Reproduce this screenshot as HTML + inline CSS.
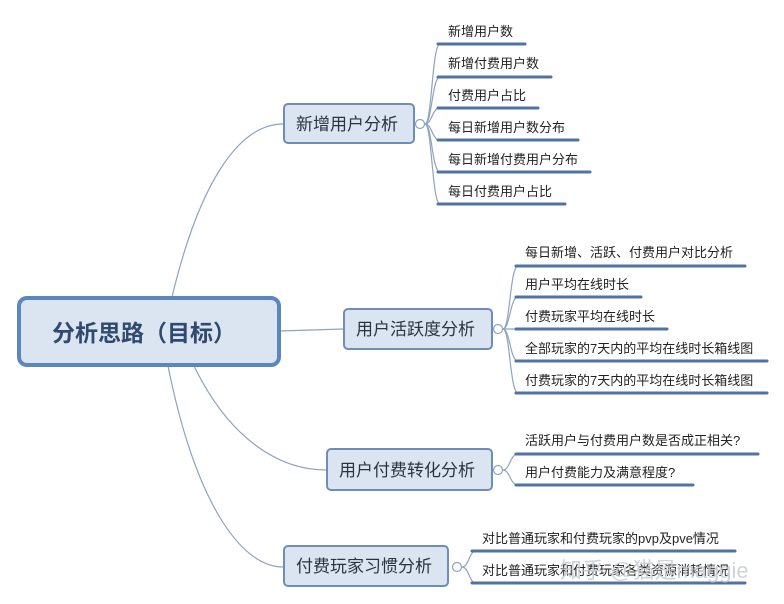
<!DOCTYPE html>
<html><head><meta charset="utf-8"><style>
html,body{margin:0;padding:0;background:#fff;}
svg{display:block;}
text{font-family:"Liberation Sans","Noto Sans CJK SC",sans-serif;fill:#222;}
.n{font-size:17px;fill:#2a3340;}
.l{font-size:13px;}
</style></head><body>
<svg width="784" height="604" viewBox="0 0 784 604" xmlns="http://www.w3.org/2000/svg">
<g fill="none" stroke="#8ea3bd" stroke-width="1.2">
<path d="M172 297 C200 180 240 124 283 124"/>
<path d="M280 331 L343 329"/>
<path d="M194 366 C230 440 280 470 326 470"/>
<path d="M168 366 C195 500 240 567 283 567"/>
<path d="M425 124 C432 124 432 44 440 44"/>
<path d="M425 124 C432 124 432 77 440 77"/>
<path d="M425 124 C432 124 432 108 440 108"/>
<path d="M425 124 C432 124 432 140 440 140"/>
<path d="M425 124 C432 124 432 172 440 172"/>
<path d="M425 124 C432 124 432 204 440 204"/>
<path d="M414 124 L416 124"/>
<path d="M503 329 C510 329 510 266 518 266"/>
<path d="M503 329 C510 329 510 297 518 297"/>
<path d="M503 329 L518 329"/>
<path d="M503 329 C510 329 510 361 518 361"/>
<path d="M503 329 C510 329 510 393 518 393"/>
<path d="M503 470 C510 470 510 454 518 454"/>
<path d="M503 470 C510 470 510 485 518 485"/>
<path d="M462 567 C469 567 469 551 476 551"/>
<path d="M462 567 C469 567 469 583 476 583"/>
</g>
<g fill="#fff" stroke="#8ea3bd" stroke-width="1.2">
<circle cx="420" cy="124" r="4.5"/>
<circle cx="498" cy="329" r="4.5"/>
<circle cx="498" cy="470" r="4.5"/>
<circle cx="457" cy="567" r="4.5"/>
</g>
<g stroke="#4f73a3" stroke-width="3" stroke-linecap="round">
<line x1="438" y1="44" x2="525" y2="44"/>
<line x1="438" y1="77" x2="551" y2="77"/>
<line x1="438" y1="108" x2="538" y2="108"/>
<line x1="438" y1="140" x2="578" y2="140"/>
<line x1="438" y1="172" x2="590" y2="172"/>
<line x1="438" y1="204" x2="565" y2="204"/>
<line x1="516" y1="266" x2="745" y2="266"/>
<line x1="516" y1="297" x2="641" y2="297"/>
<line x1="516" y1="329" x2="667" y2="329"/>
<line x1="516" y1="361" x2="767" y2="361"/>
<line x1="516" y1="393" x2="767" y2="393"/>
<line x1="516" y1="454" x2="758" y2="454"/>
<line x1="516" y1="485" x2="693" y2="485"/>
<line x1="472" y1="551" x2="735" y2="551"/>
<line x1="472" y1="583" x2="745" y2="583"/>
</g>
<rect x="19" y="298" width="260" height="67" rx="8" fill="#dbe5f1" stroke="#5b86c0" stroke-width="4"/>
<text x="52" y="341" style="font-size:23px;font-weight:bold;fill:#2f4a6e">分析思路（目标）</text>
<g fill="#dbe5f1" stroke="#6f8db5" stroke-width="2">
<rect x="284" y="104" width="130" height="39" rx="4"/>
<rect x="344" y="309" width="148" height="40" rx="4"/>
<rect x="327" y="449" width="165" height="41" rx="4"/>
<rect x="284" y="546" width="164" height="40" rx="4"/>
</g>
<text class="n" x="296" y="130">新增用户分析</text>
<text class="n" x="356" y="335">用户活跃度分析</text>
<text class="n" x="339" y="476">用户付费转化分析</text>
<text class="n" x="296" y="572">付费玩家习惯分析</text>
<text class="l" x="448" y="36">新增用户数</text>
<text class="l" x="448" y="68">新增付费用户数</text>
<text class="l" x="448" y="100">付费用户占比</text>
<text class="l" x="448" y="132">每日新增用户数分布</text>
<text class="l" x="448" y="164">每日新增付费用户分布</text>
<text class="l" x="448" y="196">每日付费用户占比</text>
<text class="l" x="525" y="257">每日新增、活跃、付费用户对比分析</text>
<text class="l" x="525" y="289">用户平均在线时长</text>
<text class="l" x="525" y="321">付费玩家平均在线时长</text>
<text class="l" x="525" y="353">全部玩家的7天内的平均在线时长箱线图</text>
<text class="l" x="525" y="385">付费玩家的7天内的平均在线时长箱线图</text>
<text class="l" x="525" y="445">活跃用户与付费用户数是否成正相关?</text>
<text class="l" x="525" y="477">用户付费能力及满意程度?</text>
<text class="l" x="482" y="543">对比普通玩家和付费玩家的pvp及pve情况</text>
<text class="l" x="482" y="575">对比普通玩家和付费玩家各类资源消耗情况</text>
<text x="560" y="578" style="font-size:22px;fill:#c8ccd2;opacity:0.85">知乎 @猫是maggie</text>
</svg>
</body></html>
